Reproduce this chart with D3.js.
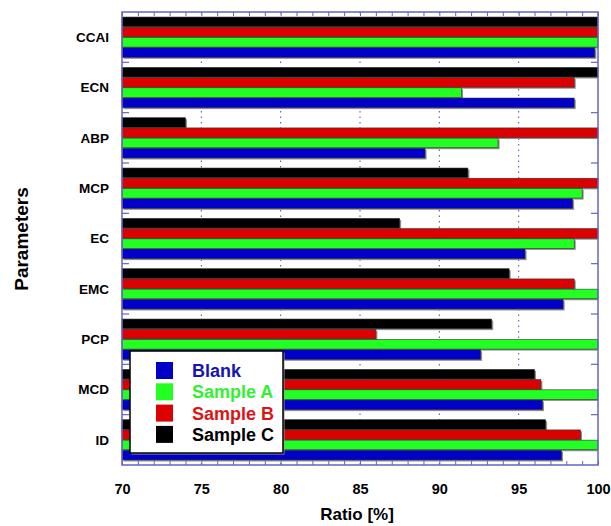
<!DOCTYPE html>
<html>
<head>
<meta charset="utf-8">
<script src="https://cdn.jsdelivr.net/npm/d3@7"></script>
<style>
  body { margin: 0; background: #fff; }
  text { font-family: 'Liberation Sans', Arial, sans-serif; font-weight: bold; }
</style>
</head>
<body>
<div id="chart"></div>
<script>
// categories, top to bottom
const categories = ['CCAI', 'ECN', 'ABP', 'MCP', 'EC', 'EMC', 'PCP', 'MCD', 'ID']

// series values (ratio %), same order as categories
const blank = [99.8, 98.5, 89.1, 98.4, 95.4, 97.8, 92.6, 96.5, 97.7]
const sampleA = [100, 91.4, 93.7, 99.0, 98.5, 100, 100, 100, 100]
const sampleB = [100, 98.5, 100, 100, 100, 98.5, 86.0, 96.4, 98.9]
const sampleC = [100, 100, 74.0, 91.8, 87.5, 94.4, 93.3, 96.0, 96.7]

const seriesNames = ['Blank', 'Sample A', 'Sample B', 'Sample C']
const xTicks = [70, 75, 80, 85, 90, 95, 100]

const width = 611
const height = 526
const margin = { top: 12, left: 122, right: 13, bottom: 61 }

const colors = {
  'Blank': '#0000c8',
  'Sample A': '#22ff22',
  'Sample B': '#dd0000',
  'Sample C': '#000000'
}
const textColors = {
  'Blank': '#1414b4',
  'Sample A': '#33f033',
  'Sample B': '#dc1414',
  'Sample C': '#000000'
}
const frameColor = '#6464c0'

const series = [
  { name: 'Blank', values: blank },
  { name: 'Sample A', values: sampleA },
  { name: 'Sample B', values: sampleB },
  { name: 'Sample C', values: sampleC }
]

const svg = d3
  .select('#chart')
  .append('svg')
  .attr('width', width)
  .attr('height', height)

const x = d3
  .scaleLinear()
  .domain([70, 100])
  .range([margin.left, width - margin.right])

const y = d3
  .scaleBand()
  .domain(categories)
  .range([margin.top, height - margin.bottom])
  .paddingInner(0.2)
  .paddingOuter(0.1)

// black on top, blue at the bottom of each group
const yInner = d3
  .scaleBand()
  .domain(['Sample C', 'Sample B', 'Sample A', 'Blank'])
  .range([0, y.bandwidth()])
  .paddingInner(0.06)

const plotTop = margin.top
const plotBottom = height - margin.bottom

// dotted grid lines
svg
  .append('g')
  .selectAll('line')
  .data(xTicks.slice(1, -1))
  .enter()
  .append('line')
  .attr('x1', d => x(d))
  .attr('x2', d => x(d))
  .attr('y1', plotTop)
  .attr('y2', plotBottom)
  .attr('stroke', '#4a4aa0')
  .attr('stroke-width', 1)
  .attr('stroke-dasharray', '1.5,4')

// flatten the data for the bars
const bars = []
series.forEach(s => {
  s.values.forEach((v, i) => {
    bars.push({ cat: categories[i], name: s.name, value: v })
  })
})

// shadows
svg
  .append('g')
  .selectAll('rect')
  .data(bars)
  .enter()
  .append('rect')
  .attr('x', x(70) + 1.5)
  .attr('y', d => y(d.cat) + yInner(d.name) + 1.5)
  .attr('width', d => Math.min(x(d.value) - x(70), x(100) - x(70) - 1.5))
  .attr('height', yInner.bandwidth())
  .attr('fill', '#8c8c8c')

svg
  .append('g')
  .selectAll('rect')
  .data(bars)
  .enter()
  .append('rect')
  .attr('x', x(70))
  .attr('y', d => y(d.cat) + yInner(d.name))
  .attr('width', d => x(d.value) - x(70))
  .attr('height', yInner.bandwidth())
  .attr('fill', d => colors[d.name])
  .attr('stroke', '#333')
  .attr('stroke-width', 0.6)

// minor ticks top and bottom
const minor = d3.range(70, 101, 1)
svg
  .append('g')
  .attr('transform', 'translate(0,' + plotTop + ')')
  .call(d3.axisTop(x).tickValues(minor).tickSize(-4).tickFormat(''))
  .call(g => g.select('.domain').remove())
  .selectAll('line')
  .attr('stroke', frameColor)

svg
  .append('g')
  .attr('transform', 'translate(0,' + plotBottom + ')')
  .call(d3.axisBottom(x).tickValues(minor).tickSize(-4).tickFormat(''))
  .call(g => g.select('.domain').remove())
  .selectAll('line')
  .attr('stroke', frameColor)

// tick labels
svg
  .append('g')
  .attr('transform', 'translate(0,' + plotBottom + ')')
  .call(d3.axisBottom(x).tickValues(xTicks).tickSize(0).tickPadding(19))
  .call(g => g.select('.domain').remove())
  .selectAll('text')
  .attr('fill', '#000')
  .style('font-size', '14.5px')
  .style('font-family', "'Liberation Sans', Arial, sans-serif")
  .style('font-weight', 'bold')

// ticks between categories on left and right
const bounds = categories.slice(1).map(c => y(c) - (y.step() * y.paddingInner()) / 2)
svg
  .append('g')
  .selectAll('line')
  .data(bounds)
  .enter()
  .append('line')
  .attr('x1', x(70))
  .attr('x2', x(70) + 7)
  .attr('y1', d => d)
  .attr('y2', d => d)
  .attr('stroke', frameColor)
  .attr('stroke-width', 1.2)

svg
  .append('g')
  .selectAll('line')
  .data(bounds)
  .enter()
  .append('line')
  .attr('x1', x(100) - 7)
  .attr('x2', x(100))
  .attr('y1', d => d)
  .attr('y2', d => d)
  .attr('stroke', frameColor)
  .attr('stroke-width', 1.2)

// category labels
svg
  .append('g')
  .selectAll('text')
  .data(categories)
  .enter()
  .append('text')
  .attr('x', 109)
  .attr('y', d => y(d) + y.bandwidth() / 2)
  .attr('dy', '0.35em')
  .attr('text-anchor', 'end')
  .style('font-size', '13.5px')
  .text(d => d)

// frame
svg
  .append('rect')
  .attr('x', x(70))
  .attr('y', plotTop)
  .attr('width', x(100) - x(70))
  .attr('height', plotBottom - plotTop)
  .attr('fill', 'none')
  .attr('stroke', frameColor)
  .attr('stroke-width', 1.5)

// axis titles
svg
  .append('text')
  .attr('x', (x(70) + x(100)) / 2 - 3)
  .attr('y', 520)
  .attr('text-anchor', 'middle')
  .style('font-size', '17px')
  .text('Ratio [%]')

svg
  .append('text')
  .attr('transform', 'translate(28,239) rotate(-90)')
  .attr('text-anchor', 'middle')
  .style('font-size', '19px')
  .text('Parameters')

// legend
const legend = svg.append('g').attr('transform', 'translate(130,351)')

legend
  .append('rect')
  .attr('x', 1.5)
  .attr('y', 1.5)
  .attr('width', 153)
  .attr('height', 102)
  .attr('fill', '#999')

legend
  .append('rect')
  .attr('width', 153)
  .attr('height', 102)
  .attr('fill', '#fff')
  .attr('stroke', '#000')
  .attr('stroke-width', 1.5)

const rows = legend
  .selectAll('.row')
  .data(seriesNames)
  .enter()
  .append('g')
  .attr('class', 'row')
  .attr('transform', (d, i) => 'translate(0,' + (11 + i * 21.3) + ')')

rows
  .append('rect')
  .attr('x', 26)
  .attr('width', 17)
  .attr('height', 17)
  .attr('fill', d => colors[d])

rows
  .append('text')
  .attr('x', 62)
  .attr('y', 15)
  .attr('fill', d => textColors[d])
  .style('font-size', '18px')
  .text(d => d)
</script>
</body>
</html>
